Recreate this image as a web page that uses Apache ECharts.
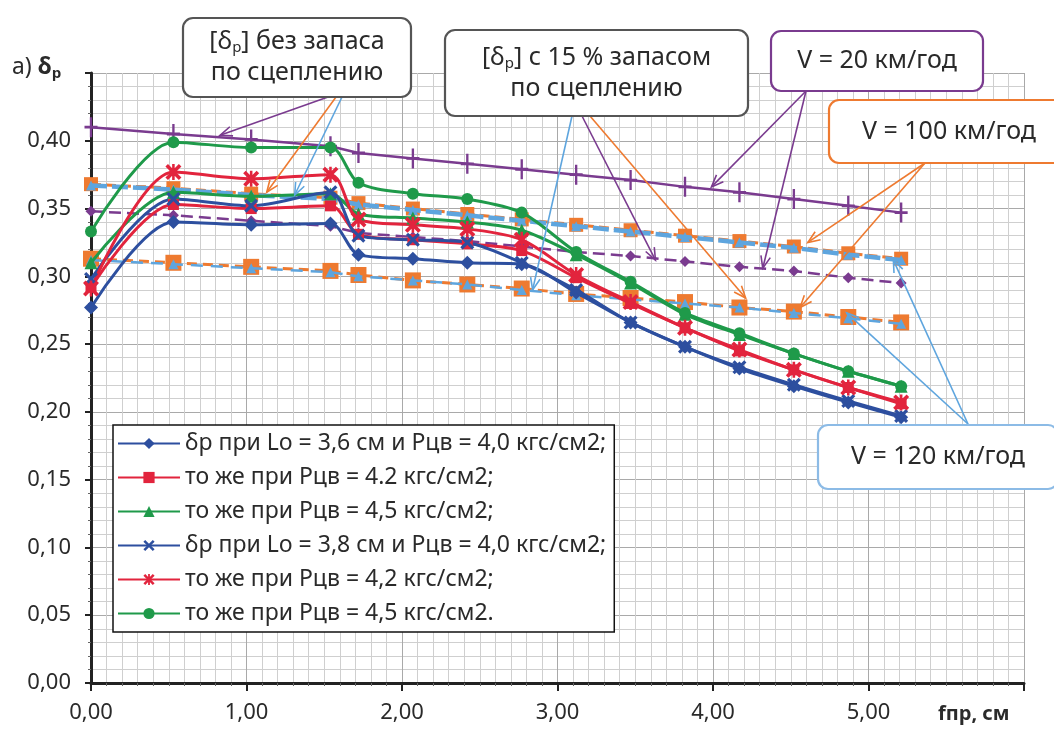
<!DOCTYPE html>
<html><head><meta charset="utf-8">
<script src="https://cdn.jsdelivr.net/npm/echarts@6/dist/echarts.min.js"></script>
<style>html,body{margin:0;padding:0;background:#fff}#c{width:1054px;height:740px}</style>
</head><body><div id="c"></div>
<script>
// ---------- DATA ----------
const xValues = [0, 0.53, 1.03, 1.54, 1.72, 2.07, 2.42, 2.77, 3.12, 3.47, 3.82, 4.17, 4.52, 4.87, 5.21];
const yTickLabels = ['0,00','0,05','0,10','0,15','0,20','0,25','0,30','0,35','0,40'];
const xTickLabels = ['0,00','1,00','2,00','3,00','4,00','5,00'];

const lo36p40 = [0.277, 0.340, 0.338, 0.339, 0.316, 0.313, 0.310, 0.309, 0.288, 0.266, 0.248, 0.232, 0.219, 0.207, 0.196];
const lo36p42 = [0.292, 0.353, 0.350, 0.352, 0.331, 0.327, 0.324, 0.319, 0.299, 0.280, 0.262, 0.245, 0.231, 0.218, 0.206];
const lo36p45 = [0.310, 0.362, 0.359, 0.361, 0.346, 0.343, 0.340, 0.334, 0.316, 0.295, 0.272, 0.257, 0.243, 0.230, 0.219];
const lo38p40 = [0.298, 0.357, 0.352, 0.362, 0.330, 0.327, 0.325, 0.310, 0.290, 0.266, 0.248, 0.233, 0.220, 0.208, 0.197];
const lo38p42 = [0.291, 0.377, 0.372, 0.375, 0.342, 0.338, 0.335, 0.327, 0.301, 0.281, 0.262, 0.246, 0.231, 0.218, 0.207];
const lo38p45 = [0.333, 0.399, 0.395, 0.395, 0.369, 0.361, 0.357, 0.347, 0.318, 0.296, 0.273, 0.258, 0.243, 0.230, 0.219];

const limV20      = [0.410, 0.405, 0.401, 0.396, 0.391, 0.387, 0.383, 0.379, 0.375, 0.371, 0.366, 0.362, 0.357, 0.352, 0.347];
const limV20res   = [0.348, 0.345, 0.341, 0.337, 0.332, 0.329, 0.326, 0.322, 0.318, 0.315, 0.311, 0.307, 0.304, 0.299, 0.295];
const limV100     = [0.368, 0.365, 0.361, 0.358, 0.354, 0.350, 0.346, 0.342, 0.338, 0.334, 0.330, 0.326, 0.322, 0.317, 0.313];
const limV120     = [0.367, 0.364, 0.360, 0.357, 0.353, 0.349, 0.345, 0.341, 0.337, 0.333, 0.329, 0.325, 0.321, 0.316, 0.312];
const limV100res  = [0.313, 0.310, 0.307, 0.304, 0.301, 0.297, 0.294, 0.291, 0.287, 0.284, 0.281, 0.277, 0.274, 0.270, 0.266];
const limV120res  = [0.312, 0.309, 0.306, 0.303, 0.300, 0.297, 0.294, 0.290, 0.286, 0.283, 0.280, 0.277, 0.273, 0.269, 0.265];

const seriesNames = [
  'δр при Lo = 3,6 см и Рцв = 4,0 кгс/см2;',
  'то же при Рцв = 4.2 кгс/см2;',
  'то же при Рцв = 4,5 кгс/см2;',
  'δр при Lo = 3,8 см и Рцв = 4,0 кгс/см2;',
  'то же при Рцв = 4,2 кгс/см2;',
  'то же при Рцв = 4,5 кгс/см2.'
];

// ---------- STYLE ----------
const FONT = 'Noto Sans';
const C = {blue:'#2d4f9f', red:'#e2243d', green:'#1f9a4a', purple:'#7a3b8f', orange:'#ee7a30', lblue:'#5ea5de', text:'#2a2a2a'};
const X_PATH = 'path://M0,1.6L1.6,0L5,3.4L8.4,0L10,1.6L6.6,5L10,8.4L8.4,10L5,6.6L1.6,10L0,8.4L3.4,5Z';
const STAR_PATH = 'path://M0,1.6L1.6,0L5,3.4L8.4,0L10,1.6L6.6,5L10,8.4L8.4,10L5,6.6L1.6,10L0,8.4L3.4,5Z M4.2,0H5.8V10H4.2Z';
const PLUS_PATH = 'path://M4.1,0H5.9V4.3H10V5.7H5.9V10H4.1V5.7H0V4.3H4.1Z';

const pairs = ys => xValues.map((x, i) => [x, ys[i]]);

function mainSeries(name, ys, color, symbol, size) {
  return {name, type:'line', data:pairs(ys), smooth:0.3, symbol, symbolSize:size,
    lineStyle:{color, width:3}, itemStyle:{color}, z:5};
}
function limitSeries(name, ys, color, symbol, size, width, dash, z) {
  return {name, type:'line', data:pairs(ys), smooth:false, symbol, symbolSize:size,
    lineStyle:{color, width, type:dash}, itemStyle:{color}, z};
}

const series = [
  limitSeries('V20', limV20, C.purple, PLUS_PATH, [13,20], 2.5, 'solid', 2),
  limitSeries('V20res', limV20res, C.purple, 'diamond', 11, 2.5, [12,6], 2),
  limitSeries('V100', limV100, C.orange, 'rect', 14, 3, [10,5], 2),
  limitSeries('V100res', limV100res, C.orange, 'rect', 16, 3, [10,6], 2),
  limitSeries('V120', limV120, C.lblue, 'triangle', 10, 4.5, [16,5], 3),
  limitSeries('V120res', limV120res, C.lblue, 'triangle', 10, 2.5, [12,8], 3),
  mainSeries(seriesNames[0], lo36p40, C.blue, 'diamond', 14),
  mainSeries(seriesNames[1], lo36p42, C.red, 'rect', 11),
  mainSeries(seriesNames[2], lo36p45, C.green, 'triangle', 13),
  mainSeries(seriesNames[3], lo38p40, C.blue, X_PATH, 14),
  mainSeries(seriesNames[4], lo38p42, C.red, STAR_PATH, 16),
  mainSeries(seriesNames[5], lo38p45, C.green, 'circle', 12)
];

const option = {
  backgroundColor:'#fff',
  animation:false,
  grid:{left:91, right:30, top:73, bottom:57, containLabel:false},
  xAxis:{type:'value', min:0, max:6, interval:1,
    axisLine:{lineStyle:{color:'#222', width:3}},
    axisTick:{show:true, length:8, lineStyle:{color:'#222', width:2}},
    minorTick:{show:true, splitNumber:10, length:3, lineStyle:{color:'#666'}},
    splitLine:{show:true, lineStyle:{color:'#a9a9a9', width:1}},
    minorSplitLine:{show:true, lineStyle:{color:'#cfcfcf', width:1}},
    axisLabel:{fontFamily:FONT, fontSize:22, color:C.text, margin:19,
      formatter: v => { const i = Math.round(v); return (Math.abs(v - i) < 1e-9 && i < xTickLabels.length) ? xTickLabels[i] : ''; }}
  },
  yAxis:{type:'value', min:0, max:0.45, interval:0.05,
    axisLine:{show:true, lineStyle:{color:'#222', width:3}},
    axisTick:{show:true, length:6, lineStyle:{color:'#222', width:2}},
    minorTick:{show:true, splitNumber:5, length:3, lineStyle:{color:'#666'}},
    splitLine:{show:true, lineStyle:{color:'#a9a9a9', width:1}},
    minorSplitLine:{show:true, lineStyle:{color:'#cfcfcf', width:1}},
    axisLabel:{fontFamily:FONT, fontSize:22, color:C.text, margin:20,
      formatter: v => { const i = Math.round(v / 0.05); return (Math.abs(v - i*0.05) < 1e-9 && i < yTickLabels.length) ? yTickLabels[i] : ''; }}
  },
  legend:{data:seriesNames, orient:'vertical', left:113, top:425, itemWidth:62, itemHeight:14, itemGap:11,
    backgroundColor:'#fff', borderColor:'#111', borderWidth:1.5, borderRadius:0, padding:[7,8,7,4],
    textStyle:{fontFamily:FONT, fontSize:23, color:C.text, lineHeight:23}},
  series
};

const chart = echarts.init(document.getElementById('c'));
chart.setOption(option);

// ---------- ANNOTATIONS ----------
const boxes = [
  {x:183, y:18, w:228, h:79, border:'#555', text:'[δ{s|р}] без запаса\nпо сцеплению'},
  {x:445, y:30, w:303, h:86, border:'#555', text:'[δ{s|р}] с 15 % запасом\nпо сцеплению'},
  {x:771, y:31, w:212, h:60, border:C.purple, text:'V = 20 км/год'},
  {x:829, y:100, w:240, h:63, border:C.orange, text:'V = 100 км/год'},
  {x:818, y:425, w:240, h:64, border:'#8cbbe6', text:'V = 120 км/год'}
];
// arrows: start pixel on a box, target given in data coordinates
const arrows = [
  {from:[328,97], to:[0.83,0.404], color:C.purple},
  {from:[336,97], to:[1.13,0.362], color:C.orange},
  {from:[342,97], to:[1.31,0.360], color:C.lblue},
  {from:[572,116], to:[2.84,0.290], color:C.lblue},
  {from:[582,116], to:[3.63,0.312], color:C.purple},
  {from:[590,116], to:[4.21,0.284], color:C.orange},
  {from:[806,91], to:[3.99,0.366], color:C.purple},
  {from:[806,91], to:[4.32,0.306], color:C.purple},
  {from:[925,163], to:[4.61,0.325], color:C.orange},
  {from:[925,163], to:[4.56,0.277], color:C.orange},
  {from:[968,424], to:[5.16,0.312], color:C.lblue},
  {from:[968,424], to:[4.86,0.273], color:C.lblue}
];

const graphic = [];
arrows.forEach(a => {
  const [x2, y2] = chart.convertToPixel({gridIndex:0}, a.to);
  const [x1, y1] = a.from;
  const ang = Math.atan2(y2 - y1, x2 - x1);
  const L = 13, sp = 0.38;
  graphic.push({type:'line', z:20, shape:{x1, y1, x2, y2}, style:{stroke:a.color, lineWidth:1.6}});
  graphic.push({type:'polyline', z:20, shape:{points:[
      [x2 - L*Math.cos(ang - sp), y2 - L*Math.sin(ang - sp)], [x2, y2],
      [x2 - L*Math.cos(ang + sp), y2 - L*Math.sin(ang + sp)]]},
    style:{stroke:a.color, lineWidth:1.6, fill:null}});
});
boxes.forEach(b => {
  graphic.push({type:'rect', z:30, shape:{x:b.x, y:b.y, width:b.w, height:b.h, r:10},
    style:{fill:'#fff', stroke:b.border, lineWidth:2.2}});
  graphic.push({type:'text', z:31, x:b.x + b.w/2, y:b.y + b.h/2,
    style:{text:b.text, fontFamily:FONT, fontSize:25, fill:C.text, align:'center', verticalAlign:'middle', lineHeight:31,
      rich:{s:{fontSize:15, fontFamily:FONT, fill:C.text, padding:[12,0,0,0]}}}});
});
// axis titles (replace last tick labels)
graphic.push({type:'text', z:31, x:12, y:54,
  style:{text:'а) {b|δ}{s|р}', fontFamily:FONT, fontSize:23, fill:C.text,
    rich:{b:{fontSize:23, fontWeight:'bold', fontFamily:FONT, fill:C.text}, s:{fontSize:15, fontWeight:'bold', fontFamily:FONT, fill:C.text, padding:[12,0,0,0]}}}});
graphic.push({type:'text', z:31, x:938, y:704,
  style:{text:'fпр, см', fontFamily:FONT, fontSize:20, fontWeight:'bold', fill:C.text}});

chart.setOption({graphic});
</script>
</body></html>
